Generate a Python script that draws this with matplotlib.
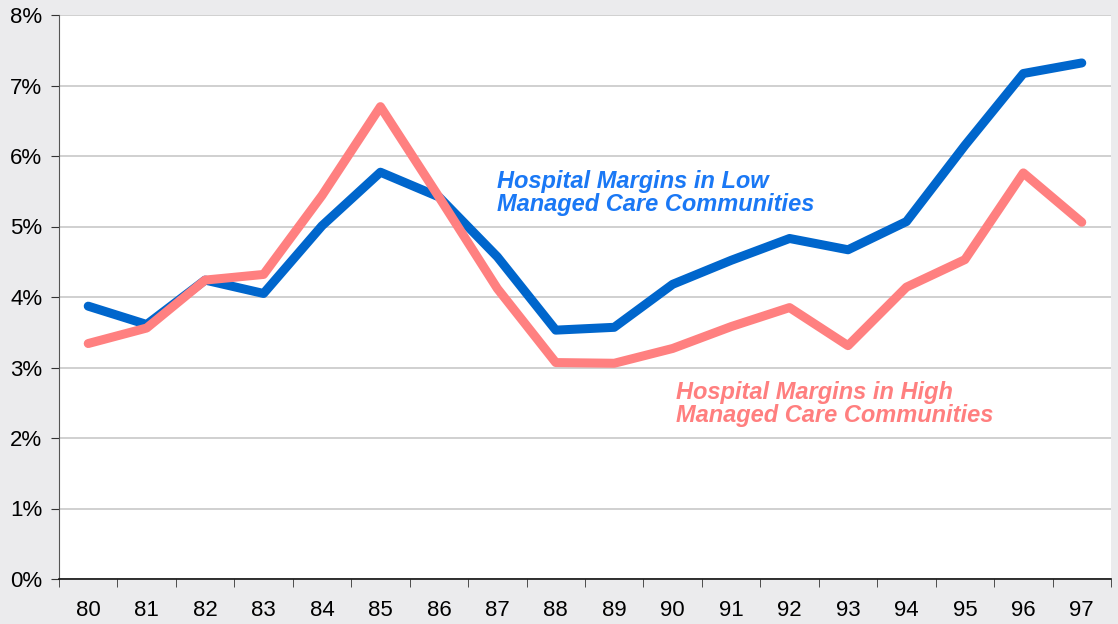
import matplotlib.pyplot as plt
import numpy as np

years = ["80", "81", "82", "83", "84", "85", "86", "87", "88", "89",
         "90", "91", "92", "93", "94", "95", "96", "97"]
low_mc = [3.87, 3.61, 4.24, 4.05, 5.01, 5.77, 5.42, 4.57, 3.53, 3.57,
          4.18, 4.52, 4.83, 4.67, 5.07, 6.15, 7.17, 7.32]
high_mc = [3.34, 3.56, 4.24, 4.32, 5.44, 6.70, 5.42, 4.12, 3.07, 3.06,
           3.27, 3.58, 3.85, 3.31, 4.14, 4.53, 5.76, 5.06]
yticks = [0, 1, 2, 3, 4, 5, 6, 7, 8]

plt.rcParams['font.family'] = ['Liberation Sans', 'DejaVu Sans']

fig = plt.figure(figsize=(11.18, 6.24), dpi=100, facecolor='#ebebed')
ax = fig.add_axes([59/1118, 1 - 579/624, (1111-59)/1118, (579-15)/624])
ax.set_facecolor('white')

x = np.arange(len(years))
ax.plot(x, low_mc, color='#0066cc', linewidth=6.5, solid_capstyle='round', solid_joinstyle='round', zorder=3)
ax.plot(x, high_mc, color='#ff8080', linewidth=6.5, solid_capstyle='round', solid_joinstyle='round', zorder=3)

ax.set_xlim(-0.5, len(years) - 0.5)
ax.set_ylim(0, 8)
ax.set_yticks(yticks)
ax.set_yticklabels([f"{v}%" for v in yticks], fontsize=16)
ax.set_xticks(x)
ax.set_xticklabels(years, fontsize=16)
ax.set_xticks(np.arange(len(years) + 1) - 0.5, minor=True)
ax.tick_params(axis='x', which='major', length=0, pad=15)
ax.tick_params(axis='x', which='minor', length=6, color='#333333', direction='out')
ax.tick_params(axis='y', length=6, color='#333333', direction='out', pad=6)
ax.grid(axis='y', color='#c8c8c8', linewidth=1.2, zorder=0)
ax.set_axisbelow(True)

for s in ['top', 'right']:
    ax.spines[s].set_visible(False)
ax.spines['left'].set_color('#555555')
ax.spines['bottom'].set_color('#111111')
ax.spines['bottom'].set_linewidth(1.2)

ax.text(7.0, 5.8, "Hospital Margins in Low\nManaged Care Communities", color='#1a78f5',
        fontsize=17, fontweight='bold', style='italic', va='top', ha='left', linespacing=1.0)
ax.text(10.06, 2.81, "Hospital Margins in High\nManaged Care Communities", color='#ff7f7f',
        fontsize=17, fontweight='bold', style='italic', va='top', ha='left', linespacing=1.0)

plt.savefig("out.png", dpi=100, facecolor=fig.get_facecolor())
plt.close()
